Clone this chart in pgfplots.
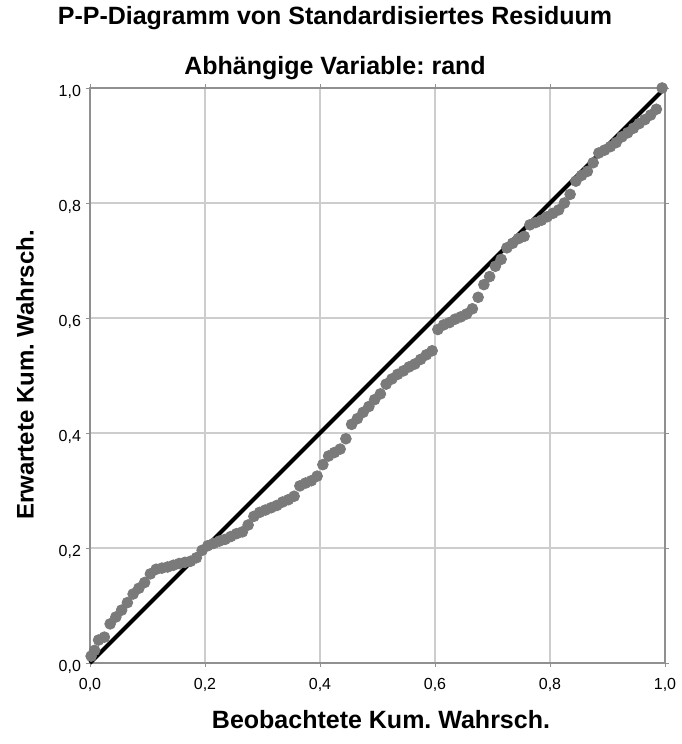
\documentclass[border=0pt]{standalone}
\usepackage{pgfplots}
\pgfplotsset{compat=1.18}
\usepackage{fontspec}
\setmainfont{Liberation Sans}
\frenchspacing
\definecolor{dotgray}{RGB}{122,122,122}
\definecolor{gridgray}{RGB}{205,205,205}
\begin{document}
\begin{tikzpicture}
\path[use as bounding box] (-45pt,-40.5pt) rectangle (295.5pt,331.5pt);
\begin{axis}[
  scale only axis, width=287.5pt, height=287.5pt,
  xmin=0, xmax=1, ymin=0, ymax=1,
  xtick={0,0.2,...,1}, ytick={0,0.2,...,1},
  grid=major, major grid style={gridgray, line width=0.8pt},
  axis line style={gridgray!70!black, line width=0.8pt},
  tick style={gridgray!70!black}, tick align=outside, major tick length=2pt,
  ticklabel style={font=\fontsize{8}{9}\selectfont},
  xticklabel style={yshift=-2pt},
  yticklabel style={yshift=-2pt, xshift=1pt},
  /pgf/number format/.cd, fixed, fixed zerofill, precision=1, use comma, assume math mode=true,
  /pgfplots/.cd,
  clip=false,
]
\addplot[only marks, mark=*, mark size=2.7pt, mark options={fill=dotgray, draw=dotgray}] coordinates {
(0.002,0.012)(0.008,0.022)(0.015,0.040)(0.025,0.045)(0.035,0.068)(0.045,0.080)(0.055,0.092)(0.065,0.105)(0.075,0.120)
(0.085,0.130)(0.095,0.140)(0.105,0.155)(0.115,0.163)(0.125,0.165)(0.135,0.167)(0.145,0.170)(0.155,0.173)
(0.165,0.175)(0.175,0.177)(0.185,0.183)(0.195,0.196)(0.205,0.204)(0.215,0.208)(0.225,0.212)(0.235,0.215)
(0.245,0.220)(0.255,0.225)(0.265,0.228)(0.275,0.240)(0.285,0.255)(0.295,0.262)(0.305,0.266)(0.315,0.270)
(0.325,0.274)(0.335,0.280)(0.345,0.284)(0.355,0.290)(0.365,0.308)(0.375,0.313)(0.385,0.317)(0.395,0.325)
(0.405,0.345)(0.415,0.360)(0.425,0.366)(0.435,0.372)(0.445,0.390)(0.455,0.415)(0.465,0.425)(0.475,0.436)
(0.485,0.446)(0.495,0.458)(0.505,0.468)(0.515,0.485)(0.525,0.494)(0.535,0.502)(0.545,0.508)(0.555,0.515)
(0.565,0.520)(0.575,0.528)(0.585,0.536)(0.595,0.543)(0.605,0.580)(0.615,0.588)(0.625,0.592)(0.635,0.598)
(0.645,0.602)(0.655,0.607)(0.665,0.616)(0.675,0.636)(0.685,0.658)(0.695,0.672)(0.705,0.690)(0.715,0.702)
(0.725,0.722)(0.735,0.730)(0.745,0.738)(0.755,0.742)(0.765,0.762)(0.775,0.766)(0.785,0.770)(0.795,0.776)
(0.805,0.782)(0.815,0.788)(0.825,0.800)(0.835,0.815)(0.845,0.838)(0.855,0.848)(0.865,0.855)(0.875,0.870)
(0.885,0.887)(0.895,0.892)(0.905,0.898)(0.915,0.905)(0.925,0.915)(0.935,0.922)(0.945,0.930)(0.955,0.938)
(0.965,0.945)(0.975,0.953)(0.985,0.963)(0.995,1.000)
};
\addplot[black, line width=2pt] coordinates {(0,0)(1,1)};
\end{axis}
\node[font=\bfseries\fontsize{12.5}{14}\selectfont] at (122.5pt,322.5pt) {P-P-Diagramm von Standardisiertes Residuum};
\node[font=\bfseries\fontsize{12.5}{14}\selectfont] at (122.5pt,297.5pt) {Abhängige Variable: rand};
\node[font=\bfseries\fontsize{12.5}{14}\selectfont] at (145.5pt,-28.5pt) {Beobachtete Kum. Wahrsch.};
\node[font=\bfseries\fontsize{12}{14}\selectfont, rotate=90] at (-32.5pt,144pt) {Erwartete Kum. Wahrsch.};
\end{tikzpicture}
\end{document}
